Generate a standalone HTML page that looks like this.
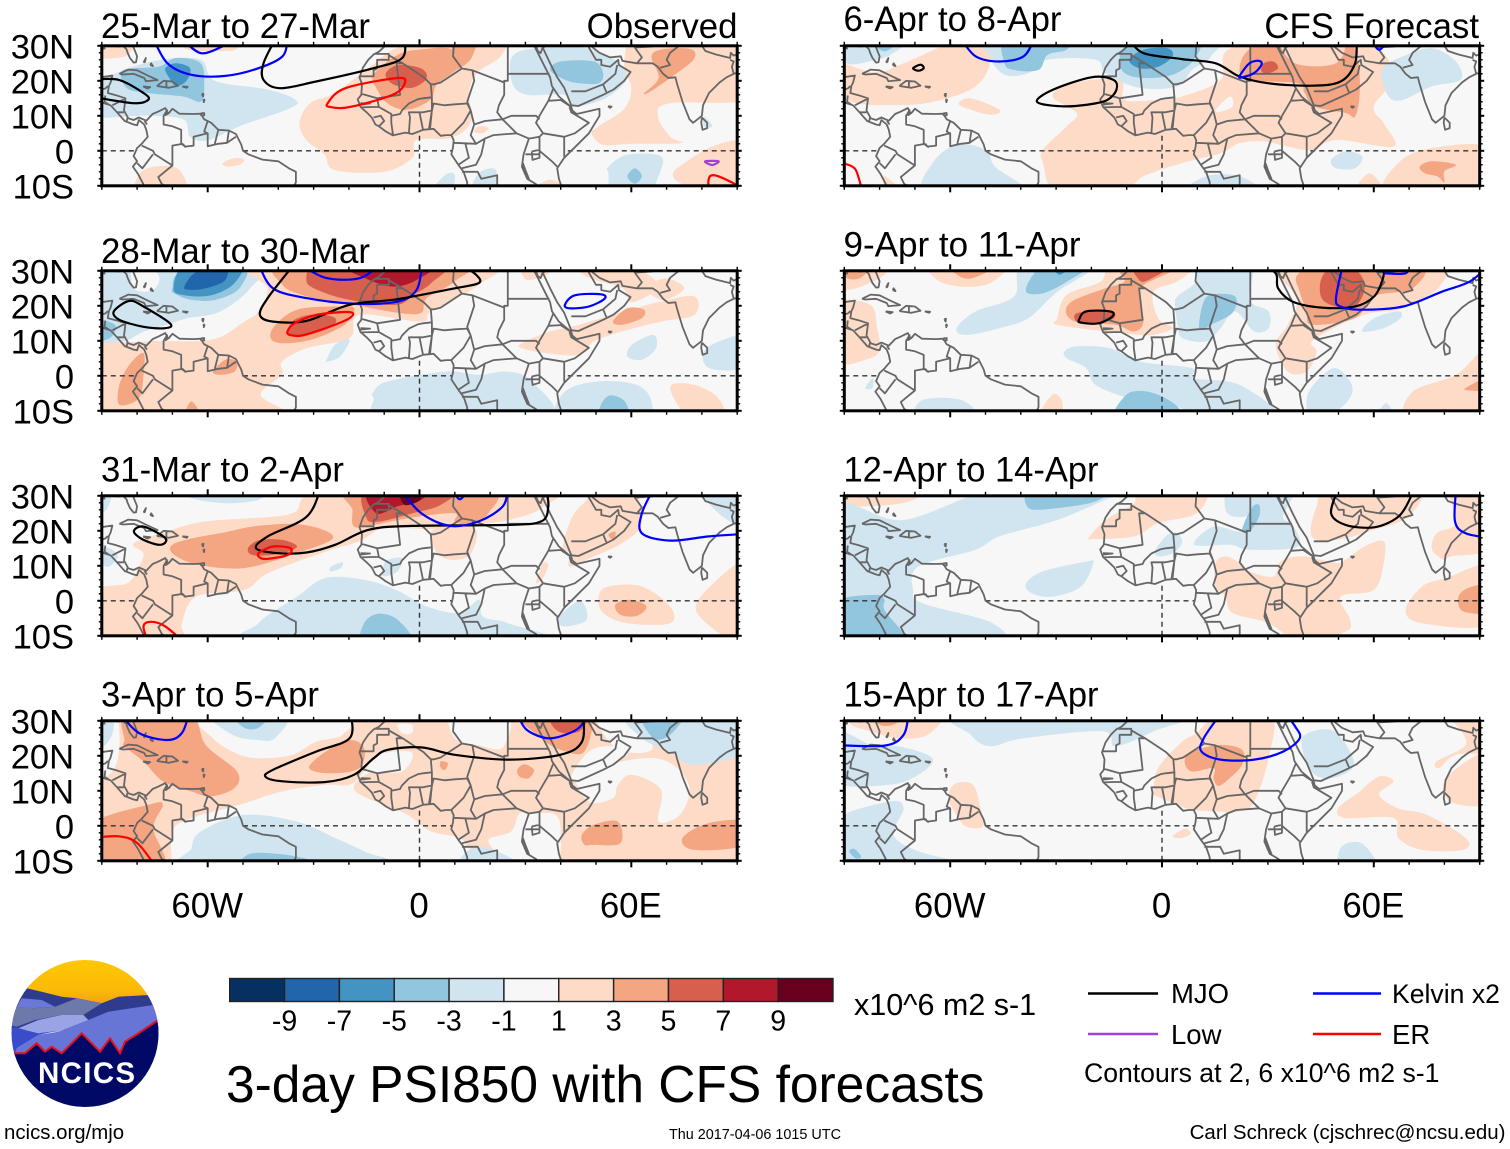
<!DOCTYPE html>
<html lang="en">
<head>
<meta charset="utf-8">
<title>3-day PSI850 with CFS forecasts</title>
<style>
html,body{margin:0;padding:0;background:#fff;}
svg{display:block;}
text{font-family:"Liberation Sans",Arial,sans-serif;fill:#000;}
</style>
</head>
<body>
<svg id="chart" xmlns="http://www.w3.org/2000/svg" width="1510" height="1149" viewBox="0 0 1510 1149">
  <rect width="1510" height="1149" fill="#fff"/>
  <defs>
    <clipPath id="logo-clip"><circle cx="85" cy="1033.5" r="73.5"/></clipPath>
    <linearGradient id="sun-gradient" x1="0" y1="0" x2="0" y2="1"><stop offset="0" stop-color="#ffc800"/><stop offset="0.65" stop-color="#fbb908"/><stop offset="1" stop-color="#ee9c10"/></linearGradient>
  </defs>
  <g id="panels"></g>
  <g id="colorbar"></g>
  <text x="854" y="1015" font-size="30.500">x10^6 m2 s-1</text>

  <g>
    <line x1="1088" x2="1158" y1="993.500" y2="993.500" stroke="#000" stroke-width="2.400"/>
    <text x="1171" y="1003" font-size="27.500">MJO</text>
    <line x1="1313" x2="1381" y1="993.500" y2="993.500" stroke="#0000ff" stroke-width="2.400"/>
    <text x="1392" y="1003" font-size="26.600">Kelvin x2</text>
    <line x1="1088" x2="1158" y1="1034" y2="1034" stroke="#a040e0" stroke-width="2.600"/>
    <text x="1171" y="1044" font-size="27.500">Low</text>
    <line x1="1313" x2="1381" y1="1034" y2="1034" stroke="#ff0000" stroke-width="2.400"/>
    <text x="1392" y="1044" font-size="27.500">ER</text>
    <text x="1084" y="1082" font-size="26.600">Contours at 2, 6 x10^6 m2 s-1</text>
  </g>

  <text x="226" y="1102" font-size="51.500">3-day PSI850 with CFS forecasts</text>
  <text x="4" y="1139" font-size="20.400">ncics.org/mjo</text>
  <text x="669" y="1139" font-size="14.400">Thu 2017-04-06 1015 UTC</text>
  <text x="1505.500" y="1139" font-size="20.500" text-anchor="end">Carl Schreck (cjschrec@ncsu.edu)</text>

  <g>
    <g clip-path="url(#logo-clip)">
      <rect x="10" y="958" width="152" height="50" fill="url(#sun-gradient)"/>
      <polygon fill="#2f3c8e" points="26.700,988.300 41.700,991.700 61.700,996.700 76.700,998.300 101.700,1003.300 118.300,996.700 148.300,995 160,1005 160,1030 10,1030 10,998"/>
      <polygon fill="#6a78d8" points="21.700,998.300 41.700,1000 55,1006.700 31.700,1008.300 16.700,1006.700"/>
      <polygon fill="#6d78ab" points="10,1025 16.700,1006.700 33.300,1008.300 55,1006.700 76.700,998.300 101.700,1003.300 83.300,1015 61.700,1015 35,1020 16.700,1026.700"/>
      <polygon fill="#6675d6" points="58.300,1031.700 88.300,1020 108.300,1011.700 153.300,1005 162,1016 162,1056 10,1056 16.700,1048.300 38.300,1035"/>
      <polygon fill="#9aa4e4" points="18.300,1028.300 38.300,1020 61.700,1015 83.300,1015 88.300,1020 58.300,1031.700 38.300,1033.300"/>
      <polygon fill="#3a4ccc" points="8,1026 11.700,1026.700 18.300,1028.300 38.300,1033.300 56.700,1031 38.300,1035 16.700,1048.300 14.300,1056 8,1056"/>
      <polygon fill="#000a66" points="8,1053.300 13.300,1053.300 25,1053.300 36.700,1043.300 45,1051.700 51.700,1046.700 61.700,1053.300 81.700,1033.300 100,1051.700 110,1038.300 120,1053.300 125,1041.700 138.300,1033.300 158.300,1020 162,1016 162,1110 8,1110"/>
      <polyline fill="none" stroke="#e8101c" stroke-width="2" points="8,1053.300 13.300,1053.300 25,1053.300 36.700,1043.300 45,1051.700 51.700,1046.700 61.700,1053.300 81.700,1033.300 100,1051.700 110,1038.300 120,1053.300 125,1041.700 138.300,1033.300 158.300,1020 162,1016"/>
    </g>
    <text x="38" y="1083" font-size="29.500" font-weight="bold" textLength="97" lengthAdjust="spacing" style="fill:#fff">NCICS</text>
  </g>
</svg>

<script>
// ---- axis ticks and labels ----
const lonLabelTicks = [-60, 0, 60];
const lonLabels = ['60W', '0', '60E'];
const lonMinorTicks = [-90, -80, -70, -50, -40, -30, -20, -10, 10, 20, 30, 40, 50, 70, 80, 90];
const latLabelTicks = [30, 20, 10, 0, -10];
const latLabels = ['30N', '20N', '10N', '0', '10S'];
const latMinorTicks = [28, 26, 24, 22, 18, 16, 14, 12, 8, 6, 4, 2, -2, -4, -6, -8];
const equatorOceanSpans = [[-90, -80], [-50, 9.5], [42, 90]];
const primeMeridianOceanSpans = [[-10, 5.5]];

// ---- colorbar ----
const colorbarColors = ['#053061', '#2166ac', '#4393c3', '#92c5de', '#d1e5f0', '#f7f7f7', '#fddbc7', '#f4a582', '#d6604d', '#b2182b', '#67001f'];
const colorbarLabels = ['-9', '-7', '-5', '-3', '-1', '1', '3', '5', '7', '9'];

// ---- panels ----
const panelTitles = ['25-Mar to 27-Mar', '28-Mar to 30-Mar', '31-Mar to 2-Apr', '3-Apr to 5-Apr', '6-Apr to 8-Apr', '9-Apr to 11-Apr', '12-Apr to 14-Apr', '15-Apr to 17-Apr'];
const panelTitleWidths = [269, 269, 243, 218, 218, 237, 255, 255];

// ---- coastlines and borders, [lon, lat] ----
const coastlines = [
  [[-97,28],[-94,29.5],[-90,29.2],[-89.2,29.2],[-89.5,30.3],[-85.5,29.8],[-84,30],[-83,29],[-82.7,28],[-82,26.5],[-81,25.2],[-80.3,25.3],[-80,27],[-81,29.5],[-81.4,31]],
  [[-92,18.6],[-90.7,19.5],[-90.3,21],[-87,21.5],[-87.5,19.5],[-88,18.5],[-88.3,16.5],[-86,15.9],[-83.3,15],[-83.7,11.5],[-82.5,9.3],[-81,8.8],[-79.5,9.5],[-77.4,8.6],[-75.6,10.5],[-74,11.2],[-72,12.2],[-71.4,11],[-71.9,10.2],[-71,10.8],[-70,12],[-68,10.6],[-64,10.5],[-62,10.6],[-61,9],[-59,8],[-57,6],[-54,5.8],[-52,4.8],[-50.5,1.8],[-50,0],[-48.5,-1],[-44.5,-2.5],[-40,-3],[-37,-5],[-35,-6],[-35,-9],[-36,-11]],
  [[-92,15],[-90,13.8],[-87.5,13],[-85.7,11],[-83.5,8.5],[-81,7.5],[-80,7.3],[-79.5,8.8],[-78,7.5],[-77.4,6],[-77,4],[-78.7,2],[-80,0.8],[-81,-1.5],[-80,-3],[-81.2,-4.5],[-79.8,-6.5],[-78.5,-9],[-77.5,-11]],
  [[-71.4,11.8],[-72.5,10],[-72.5,7.5],[-70,7],[-67.5,6],[-67.5,2],[-66,1]],
  [[-60,8.5],[-61,5.5],[-60,5],[-64,4],[-64,1.5],[-66.5,1.2],[-67,2]],
  [[-60,5],[-60,1.3],[-57,2],[-54.5,2.3],[-52,4]],
  [[-57,6],[-58,2]],
  [[-54,5.8],[-54.5,2.3]],
  [[-67,2],[-70,1.5],[-70,-4.2],[-74,-7.5],[-73,-9.5],[-70,-11]],
  [[-78.7,1.5],[-75.5,0],[-75,-1],[-70,-4.2]],
  [[-80,-3.5],[-78.5,-5],[-75.5,-1]],
  [[-77.2,7.5],[-77.9,8.5]],
  [[-85.7,11],[-83.7,11]],
  [[-83,8.3],[-82.7,9.5]],
  [[-83.2,15],[-87,13]],
  [[-92,14.6],[-92,17],[-89,17.8],[-88.3,18.5]],
  [[-89,15.8],[-89.2,14],[-88,13.2]],
  [[-85,22],[-82.5,23.2],[-80,23],[-77,21.5],[-74.2,20.2],[-77.5,19.9],[-78,20.8],[-81,22],[-84,21.8],[-85,22]],
  [[-74.4,18.5],[-72.5,20],[-70,19.8],[-68.4,18.6],[-71,18],[-74.4,18.5]],
  [[-71.7,19.8],[-71.7,18]],
  [[-78.3,18.4],[-76.3,18.2],[-77,17.8],[-78.3,18.4]],
  [[-67.2,18.4],[-65.7,18.3],[-66,18],[-67.2,18.4]],
  [[-78.2,25.2],[-77.5,26.5],[-77.8,25.4],[-78.2,25.2]],
  [[-76.3,24.5],[-75.5,24.2],[-76,25],[-76.3,24.5]],
  [[-61.7,16.2],[-61.2,16.3],[-61.3,15.5],[-61.7,16.2]],
  [[-61.2,14.8],[-60.9,14.5],[-61.1,13.9],[-61.2,14.8]],
  [[-61.9,10.7],[-61,10.8],[-61,10.1],[-61.9,10.2],[-61.9,10.7]],
  [[-10,31],[-9.7,30],[-11.5,28.3],[-13,27.5],[-14.5,26],[-16,23.8],[-17,21],[-16.3,19],[-16.5,16],[-17.5,14.7],[-16.7,12.5],[-15,11],[-13.5,9.5],[-12.5,7.5],[-11.5,7],[-9.5,5.5],[-7.5,4.4],[-4,5.2],[-2,4.8],[1,6],[4,6.3],[6,4.3],[7.5,4.5],[9,4.5],[9.7,3],[9.5,1],[9,-1],[11,-4],[12.5,-6],[13.5,-9],[13.5,-11]],
  [[32.5,31],[32.5,30],[33.5,28],[35.5,24],[37,21],[37.5,18.5],[39.5,15.5],[43,12.5],[43.3,11.5],[44.5,10.5],[51,12],[51,10],[48,5],[44,1],[41,-2],[39,-5],[39.5,-8],[40.5,-11]],
  [[33,29.9],[33.5,28.5],[34.3,27.9],[34.9,29.5],[36,30]],
  [[34.9,29.5],[37,25],[39,21],[41,18],[43,13],[45,12.8],[52,16],[55,17.5],[58,20],[59.8,22.5],[56.5,24.5],[56.3,26],[54,24],[51.5,24.5],[51.5,26],[50,26],[48,29.5],[48.5,31]],
  [[48.5,30],[51,28],[54,26.7],[57,27],[57.5,25.7],[61.5,25],[66,25],[67.5,24],[69,22],[70.5,20.8],[72.5,21],[73,19],[74.5,14],[76.5,9],[77.5,8],[80,10],[80.3,13],[82,16.5],[85,19.5],[87,21],[89,22],[91,22.5]],
  [[80,9.5],[81.5,8],[81.5,6.5],[80.2,6],[79.8,8],[80,9.5]],
  [[53.4,12.7],[54.4,12.6],[54,12.3],[53.4,12.7]],
  [[-13,27.7],[-8.7,27.7],[-8.7,26],[-12,26],[-12,23.5],[-13,23],[-13,21.3],[-17,21.3]],
  [[-8.7,27.3],[-4.8,25],[-6.5,25],[-5.5,16],[-12,15],[-16.5,16.3]],
  [[-4.8,25],[1.2,21],[3.2,19],[4.2,19],[6,19.5],[12,23.5],[9.5,27],[9.8,31]],
  [[12,23.5],[15,23],[24,19.5],[24,20],[25,20],[25,31]],
  [[25,22],[36.8,22]],
  [[24,19.5],[24,16],[22.5,13],[22,11],[23.5,9]],
  [[3.2,19],[3.5,15.3],[1,15],[-0.5,14.7],[-3,13.5],[-5,11.5],[-5.5,10.5],[-8,10],[-8,10.5],[-11.5,12.5],[-12,15]],
  [[3.5,15.3],[3.5,11.5],[1,11],[-3,11],[-2.7,9.5],[-3,5]],
  [[3,6.5],[3.5,11.5],[4,13.5],[7,13],[10,13.3],[13.5,13.5],[14.5,11.5],[12.5,8],[9,4.5]],
  [[15,23],[15.5,20],[13.5,14],[14.5,11.5],[15,9.5],[15.5,7.5],[18.5,8.5],[23.5,9],[27.5,5]],
  [[15.5,7.5],[14.5,4.5],[16,2]],
  [[18.5,3.5],[21,4.5],[27.5,5],[31,3.5]],
  [[23.5,9],[26,10],[33,10],[34,9]],
  [[36.5,14.3],[34,10],[33,8],[35,5],[41,4],[44,5],[48,8],[43,11],[42.5,12.5]],
  [[36.5,14.3],[38,18]],
  [[36.5,14.3],[40,14.5],[43,12.5]],
  [[41,4],[41,-1.7]],
  [[34,4],[35,5]],
  [[34,0],[37.5,-3],[39,-4.5]],
  [[30,-1],[34,-1]],
  [[31,3.5],[34,4],[34,0]],
  [[31,3.5],[29.5,-1],[29,-4.5],[30.5,-8],[33,-9.5],[34,-11]],
  [[9.7,2.3],[16,2],[18.5,3.5],[17.5,-1],[16,-4],[12,-5]],
  [[13,2],[14,-2],[11,-4]],
  [[12,-6],[16.5,-6],[17.5,-8],[22,-7],[22,-11]],
  [[1,6],[0,11]],
  [[2.7,6.3],[3.5,11.5]],
  [[-7.5,4.5],[-8,8],[-8,10]],
  [[-11.5,7],[-10,8.5],[-11,10],[-13,9.5]],
  [[-16.7,13.6],[-14,13.5],[-16.7,13.2]],
  [[-16.7,12.4],[-13.5,12.5],[-11.5,12.5]],
  [[31.8,-0.2],[34,0.3],[34,-2],[32,-2.6],[31.8,-0.2]],
  [[29.3,-3.5],[30,-5.5],[31,-8],[29.8,-6.5],[29.3,-3.5]],
  [[43,17],[47,17],[52,19],[55.5,22],[56,24.5]],
  [[53,16.6],[52,19]],
  [[35,29.5],[39,32]],
  [[61.6,25],[63,26.7],[61,29.5],[61,31]],
  [[61,29.5],[66,29.8],[67,31]],
  [[68.2,23.7],[71,24.5],[70,26],[71,28],[73.5,30],[75,32]],
  [[80,30],[81,28.5],[84,27.5],[88,26.5],[88.2,28],[89,27.2],[91,28]],
  [[88,26],[89,25.5],[88.5,24],[89,22]]
];

// ---- shading per panel: [level, [[lon, lat], ...]]; level 0 means the -1..1 white band ----
const shading1 = [
  [1,[[-68,31],[-66,29],[-58,28.5],[-52,29],[-51,31]]],
  [1,[[-90,31],[-90,27],[-86,26.5],[-82,28],[-81,31]]],
  [-1,[[-90,10],[-90,18],[-84,23],[-73,26],[-62,26],[-58,20],[-43,17.5],[-35,14.5],[-37,12],[-51,7],[-60,3],[-65,4],[-67,9],[-78,10]]],
  [-3,[[-84,23],[-74,24],[-69,26.5],[-62,25],[-61,18.5],[-62,14],[-67,15.5],[-77,16.5],[-83,18]]],
  [-5,[[-72,23.6],[-69,25],[-65,23.6],[-66,20],[-69,18.5],[-71,21]]],
  [1,[[-34,8],[-31,13.6],[-24,16.5],[-14,24],[-6,29.5],[10,31],[24,31],[23,27],[16,22],[14,16],[15,10],[13,6],[8,3.5],[-1,3],[-2,-2],[-10,-6],[-24,-5.5],[-27,-1],[-32,3]]],
  [3,[[-13,21.7],[-6,27.5],[1,29],[9,29],[11,24],[5,19],[3,14.5],[-3.5,11.7],[-9,13.5],[-12,17.5]]],
  [3,[[9.5,31],[16,31],[15,27],[12,24],[10,24]]],
  [5,[[-9.6,22],[-6,24.5],[0.5,23.5],[2,20.7],[-2,18],[-7.5,19]]],
  [-1,[[26.3,27],[33.8,29.3],[49.4,28.9],[58.9,22.2],[53.5,15.5],[44,12.7],[41,16],[30.4,16],[26.3,19.3]]],
  [-3,[[37,23.1],[40,25.5],[49.4,25.5],[52,22.2],[50.8,19.3],[45.3,19.3],[41.2,20.3]]],
  [1,[[48.7,5],[50.7,7],[58,12],[60,18],[58,24],[59,30],[60,31],[93,31],[93,15.5],[71,13.6],[67.6,9.8],[71,4],[74,2.2],[60,2],[52,1.7]]],
  [3,[[63.6,16.4],[67.7,20.8],[65.7,27],[69,29],[76.9,29],[77.6,26],[71,20.8],[65.5,17]]],
  [1,[[89.7,3],[82,0.8],[75,-3.5],[71.8,-6.4],[73.8,-9.2],[82,-10],[90,-10],[90,1]]],
  [-1,[[53.5,-4.5],[58.9,-1.1],[68.4,-1.6],[67.7,-7.3],[64.3,-10],[54.8,-10],[53.5,-6.4]]],
  [-3,[[58.9,-7.3],[61,-5],[63,-7.3],[61,-9.4]]],
  [1,[[-55.8,-3.5],[-52.4,-2.1],[-49.7,-2.6],[-51,-4],[-54.4,-4.5]]],
  [1,[[-80,-10],[-78,-5.4],[-68.7,-5],[-66.6,-10]]],
  [-1,[[3.3,-10],[7.3,-6.9],[10,-6.9],[8.7,-10]]],
  [-1,[[14.8,-10],[16.8,-6.4],[21.6,-5.4],[21,-10]]],
  [1,[[31.8,-10],[37,-8.3],[42.6,-10]]],
  [1,[[15.5,5.5],[16.8,7],[19.5,6.5],[18,5]]],
  [-1,[[80.6,9.8],[83,7],[80.6,7]]]
];
const shading2 = [
  [-1,[[-90,30],[-47,30],[-48,25],[-56.6,18.3],[-66,16.4],[-71.4,14.6],[-78,12.7],[-84,9.8],[-90,9.8]]],
  [0,[[-81,31],[-74,28.9],[-75.4,24.6],[-81,25]]],
  [-3,[[-70,25],[-67.3,29.7],[-49.7,30],[-51,25],[-57.8,21.7],[-64.6,21.7],[-69.4,23.5]]],
  [-3,[[-90,16],[-86.3,14.6],[-87.7,10.8],[-90,10.2]]],
  [-5,[[-69.7,25],[-66,30],[-51,30],[-52.4,26.5],[-59,23],[-66.6,23]]],
  [-7,[[-66.6,25.5],[-63.2,29.7],[-55,30],[-55,27.4],[-60.5,25],[-65.2,24.6]]],
  [1,[[-45.6,30],[-43,25],[-45.6,18.4],[-49.7,15.5],[-59,10.3],[-78,9.8],[-90,7],[-90,-10],[-40,-10],[-45,-5.4],[-39,0.3],[-39,4],[-32,7.9],[-19.8,10.8],[-17,17.4],[0.5,15.5],[3.3,18.4],[16.8,26],[18,30]]],
  [3,[[-37.4,30],[-38.8,26],[-32,22.7],[-21.2,20.8],[-6.2,18],[0.5,18],[2,22.2],[10,27],[11.4,30]]],
  [3,[[-42.2,10.8],[-40.8,14.6],[-34.7,18.9],[-23.9,19.8],[-18.5,19.3],[-21.2,14.6],[-30.7,10.3],[-38.8,9.3]]],
  [5,[[-26.6,30],[-32,27],[-26.6,23.6],[-17,21.2],[-6.2,20.3],[-2,23],[3.3,26.5],[6,30]]],
  [5,[[-37.4,11.7],[-35.4,16],[-29.3,17.6],[-23.9,16.5],[-25,14.1],[-32,11.7]]],
  [7,[[-21.2,30],[-15.7,28],[-7.6,25.5],[-0.8,27.4],[3.3,30]]],
  [-1,[[-26.6,4],[-23.9,8.9],[-19.8,10.3],[-22.5,5.5],[-26.6,3.9]]],
  [-1,[[-13,-4.5],[-9,-1.6],[7.3,1.2],[16.8,0.3],[25,1.2],[31.8,-1.6],[35.8,-10],[-9,-10],[-13,-6.4]]],
  [-1,[[40,-10],[41.2,-4.5],[50.7,-1.6],[61.6,-2.6],[65.7,-7.3],[63,-10]]],
  [-3,[[51.4,-8.3],[54,-5.6],[58.2,-7.3],[58.9,-10],[51.4,-10]]],
  [1,[[71,-3.2],[77.9,-2.6],[84.7,-6.4],[86,-10],[76.5,-10]]],
  [1,[[29,9.3],[37,12.7],[45.3,14.6],[57.5,18.3],[68.4,21.2],[77.9,22.7],[77.9,17.4],[68.4,15.5],[57.5,12.7],[49.4,9.8],[45.3,6],[35.8,6.5],[29,7.9]]],
  [1,[[44,30],[48,28],[57.5,25],[60,21],[67,24.6],[66,28],[57.5,30]]],
  [1,[[29,30],[37,29.8],[30.4,27.4]]],
  [1,[[63.6,25],[69.7,27.9],[75,25],[69.7,21.7],[65.7,23.1]]],
  [3,[[54.8,15.5],[58.9,19.3],[63.6,18.9],[63,16.5],[57.5,14.6]]],
  [3,[[-85,-2.6],[-82.2,3.1],[-78.2,6.5],[-78.2,0.3],[-79.5,-6.4],[-85,-8.3]]],
  [3,[[-58.5,1.2],[-55,4.6],[-51.7,4.1],[-52.4,1.2],[-56.4,0.3]]],
  [3,[[-66.6,-10],[-64.6,-7.3],[-61.9,-10]]],
  [-1,[[58.9,5.5],[60.2,8.9],[66.3,11.7],[67,7.9],[63,4.6]]],
  [-1,[[81.3,7.9],[90,11.7],[90,2.7],[82,2.2]]]
];
const shading3 = [
  [1,[[-90,2.2],[-82.8,5],[-79.5,9.8],[-78.2,13.6],[-81,16.4],[-71.4,19.8],[-60.5,22.7],[-37.4,24.6],[-33.4,28.9],[-29,31],[36,31],[34.5,26.5],[25,23],[16.8,21.9],[3.3,20.5],[-10,20.8],[-17,17],[-26.6,14],[-42.7,8],[-49.7,3.1],[-63.2,1.2],[-67.3,-6.4],[-68,-11],[-91,-11]]],
  [1,[[4,20.3],[15.5,20.8],[14.7,13.6],[10,11.7],[6,12.7],[4,15.5]]],
  [-1,[[-90,30],[-87.3,30],[-88.7,26],[-90,25]]],
  [-1,[[-68.7,30],[-44.2,30],[-45.6,28.9],[-55,27.9],[-64.6,29.3]]],
  [-1,[[-90,16],[-87,14.6],[-85.6,12.2],[-89,9.8]]],
  [-1,[[80.6,30],[90,30],[90,21.2],[84.7,25]]],
  [1,[[40.6,15.5],[43.3,24],[47.4,28.9],[49.4,30],[60.2,30],[63,22.2],[57.5,16.5],[49.4,12.7],[42.6,9.8],[42.6,13.6]]],
  [1,[[33.8,7.9],[35,10.8],[36.5,10.3],[35,6.5],[33,5]]],
  [3,[[-70,16],[-64.6,17.8],[-55,19.6],[-46,21.4],[-34.7,21.9],[-26.6,20],[-25,17.4],[-34.7,13.6],[-47,9.8],[-55,9.3],[-64.6,10.8],[-70,13.6]]],
  [3,[[-19,30],[-19,26],[-18.5,21.2],[-13,21.7],[-0.8,24],[10,25],[10,22.5],[15,22],[19.5,25],[19.5,30]]],
  [3,[[53.5,18.9],[55.5,19.8],[55,17.4]]],
  [5,[[-14.4,30],[-15,23.6],[-11,22.7],[-2,25],[6,27.4],[9.4,30]]],
  [5,[[-48.3,15.5],[-45,17.4],[-38.8,17.4],[-34.7,15.5],[-38.8,13.6],[-45.6,12.9],[-48.3,13.6]]],
  [7,[[-14.4,30],[-12.3,25],[-6.2,27],[0.5,28.9],[2.6,30]]],
  [9,[[-5.6,30],[-4.2,27.4],[0.5,29.3]]],
  [-1,[[-45.6,-6.4],[-34.7,1.2],[-26.6,6.5],[-15.7,6],[-6.2,2.9],[2,-1.6],[11.4,-3.5],[16.8,0.3],[18,-4.5],[25,-6.4],[34.5,-10],[-45.6,-10]]],
  [-3,[[-15.7,-10],[-15.7,-6.4],[-11.7,-3.7],[-6.2,-5.4],[-2.2,-10]]],
  [-1,[[-25,9.8],[-21.8,11],[-22.3,9.3],[-25.2,8.4]]],
  [-1,[[-9,11.7],[-5,12.2],[-6.2,8.4],[-10.3,7],[-10.3,9.8]]],
  [-1,[[39.2,-5.4],[42.6,-1.6],[46,-0.2],[47.4,-5.4],[41.2,-7.3]]],
  [1,[[50.7,1.2],[53.5,4.1],[63,4.1],[71,-1.6],[71,-6.4],[58.9,-6.4],[52,-3.5]]],
  [3,[[55.5,-1.1],[59.6,0.3],[64.3,-1.6],[61.6,-4.3],[56.9,-4]]],
  [1,[[90,10.3],[83.3,5],[78.6,-3.5],[90,-10]]]
];
const shading4 = [
  [1,[[-100,40],[100,40],[100,-20],[-100,-20]]],
  [0,[[-61.2,30],[-58.5,25],[-51,20.3],[-44.2,19.3],[-36,20.3],[-29.3,24],[-21.8,26],[-21.2,30]]],
  [0,[[-90,30],[-86.3,30],[-85,23],[-87,15.5],[-90,13.6]]],
  [0,[[-70,-10],[-70,-1.6],[-64.6,2.2],[-51,6],[-39,9.8],[-26.6,11.7],[-19.8,11.7],[-15.7,15.5],[-11.7,20.3],[-2.2,21],[-5,15.5],[-14.4,15],[-18.5,10.3],[-10.3,6],[-3.5,3.2],[3.3,-1.6],[11.4,-3.5],[15.5,-7.3],[29,-11],[-70,-11]]],
  [0,[[28.4,3.6],[33,3.6],[38.5,3.2],[40,-1.6],[38.5,-10],[28,-10],[19.5,-4.5],[26,-1.6]]],
  [0,[[9.4,30],[25,30],[23.6,22.4],[16.8,23],[10,25]]],
  [0,[[-6.2,28.9],[-2.2,28.9],[-2.2,26.5],[-4.9,26.5]]],
  [0,[[48,6.9],[45.3,14.6],[63,19.3],[71.8,17.4],[76.5,10.8],[73.8,3.2],[67.7,1.2],[68.4,10.3],[60.2,14.6],[56.2,11.7],[54.8,7.9]]],
  [0,[[42.6,13.6],[48,21.2],[54.8,22.7],[58.9,20.3],[49.4,15.5],[44,12.7]]],
  [0,[[49.8,30],[60,30],[66,22],[56,22]]],
  [-1,[[-90,30],[-87,30],[-87.5,25],[-90,21]]],
  [-1,[[-59,30],[-38,30],[-41,25],[-46,24.5],[-53,26]]],
  [-3,[[-52.4,30],[-42.9,30],[-45.6,28],[-49.7,28]]],
  [-1,[[60.2,30],[91,30],[91,21.7],[77.9,17.4],[71,21.2],[63,25]]],
  [-3,[[63,30],[66.3,25],[71,26],[74.5,30]]],
  [3,[[-83.6,24.5],[-83,30],[-65.3,30],[-60.5,23],[-51.7,15.5],[-52.4,10.8],[-59,8.4],[-64.6,9.8],[-72.7,12.7],[-78.2,18.4],[-83.6,22.7]]],
  [3,[[-90,0.3],[-76.8,6],[-72.7,6],[-75.4,-0.7],[-72.7,-10],[-90,-10]]],
  [3,[[-31.3,16.5],[-26.6,21.2],[-19.8,24.5],[-15.7,22.2],[-17,16.5],[-25,15]]],
  [3,[[27.7,16],[29.7,17.6],[32.4,16],[31,13.6],[28.4,14]]],
  [3,[[6,18.4],[8,17.9],[7.3,16],[6,16.5]]],
  [3,[[46,-2.6],[49.4,0.3],[56.2,1.2],[56.9,-5],[49.4,-5.4],[46.7,-5.4]]],
  [3,[[74.5,-3.5],[82,0.8],[90,1.2],[90,-5.4],[78,-6.9]]],
  [3,[[28.4,30],[34.5,25],[39.9,21.7],[46.7,21.2],[47.4,30]]],
  [5,[[37,30],[39.2,27],[45.3,27],[47.4,30]]],
  [-1,[[-64.6,-6.4],[-61.9,-1.6],[-49.7,3.1],[-34.7,1.2],[-23.9,-3.5],[-15.7,-7.3],[-7.6,-10],[-64.6,-10]]],
  [-3,[[-49,-10],[-47.6,-7.9],[-34.7,-8.8],[-26.6,-10]]],
  [-1,[[11.4,-10],[14.8,-6.4],[21,-6.9],[29,-10]]]
];
const shading5 = [
  [1,[[-90,25],[-81.4,22.4],[-73.2,25],[-57,30],[-50,30],[-48.7,25],[-52.8,18.4],[-62.3,14.6],[-73.2,13.1],[-89.5,14.6]]],
  [-1,[[-90,30],[-73,30],[-76,28],[-81,26],[-89.5,25]]],
  [-3,[[-82.7,30],[-74.6,30],[-78.6,28.4]]],
  [1,[[-33.7,0.3],[-27,7],[-24.2,10.8],[-31,15.5],[-25.6,19.3],[-12,20.3],[-10.6,14.6],[-1.1,14.6],[5.7,15.5],[16.6,20.3],[20.7,29.8],[55.4,30],[65.6,22],[60,12.7],[62.8,7.9],[65.6,1.2],[49.6,3.1],[42.4,0.3],[35.6,1.2],[28.8,2.7],[22,2.2],[16.6,-0.7],[5.7,-3.5],[-5.2,-7.3],[-12,-10],[-29.7,-10],[-33.7,-3.5]]],
  [-1,[[-48.7,27],[-45.9,30],[11.2,30],[13.9,27],[8.4,23],[4.4,18.4],[-6.5,18],[-16,22.2],[-18.8,26],[-32.4,26],[-37.8,22.2],[-44.6,21.7]]],
  [-3,[[-44.6,25],[-44,30],[-27,30],[-27,28.9],[-32.4,27.4],[-35,23.1],[-42,23.1]]],
  [-3,[[-12,26],[-9.3,29.8],[9.8,30],[9,26],[3,21.7],[-5.2,20.8],[-10.6,22.2]]],
  [-5,[[-9.3,26],[-5.2,28.9],[1.6,29.3],[3,27],[-1.1,24],[-6.5,23.6]]],
  [1,[[-57.6,13.6],[-54.2,15],[-46,11.7],[-48.7,10.3],[-55.5,12.2]]],
  [0,[[15.2,11.7],[19.3,15.5],[20,12.7],[16.6,11.2]]],
  [3,[[22,24],[26.1,29.8],[39.7,30],[52,30],[55.4,26],[56,16.5],[54.7,9.8],[52,10.8],[43.1,12.7],[40.4,16.5],[38.4,19.3],[24.8,20.3]]],
  [1,[[34.3,30],[37.7,25],[49.3,25],[50.6,30]]],
  [5,[[28.8,25],[31.6,25.5],[32.9,23.6],[30.2,22.2],[28.2,22.7]]],
  [-1,[[62.2,23.1],[68.3,27],[76.5,29.3],[83.3,25.5],[84.6,20.3],[76.5,18.4],[68.3,14.6],[64.2,15.5]]],
  [1,[[64.2,-10],[66.9,-3.5],[76.5,0.8],[90,0.8],[90,-10]]],
  [3,[[73,-4.5],[76.5,-3],[83.3,-4],[80,-5.9],[80,-9],[78,-7.3],[74.4,-6.4]]],
  [-1,[[47.9,-2.6],[52,-0.2],[56.7,-1.6],[54.7,-5],[49.3,-5]]],
  [-1,[[-66.4,-10],[-65,-3.5],[-58.2,1.7],[-50,0.3],[-47.3,-4.5],[-39.2,-10]]],
  [-1,[[7,-10],[12.5,-7.3],[22,-7.3],[27.5,-10]]],
  [1,[[54.7,-10],[58.8,-6.4],[62.8,-10]]],
  [1,[[-78.6,-7.3],[-73.2,-10],[-78,-10]]]
];
const shading6 = [
  [1,[[-90,30],[-80,30],[-78.6,28.9],[-86.8,25],[-90,25]]],
  [3,[[-90,30],[-82.7,30],[-85.4,28],[-89.5,28]]],
  [1,[[-90,20.3],[-82.7,20.3],[-80.7,13.6],[-80,7.9],[-82.7,5],[-90,4.1]]],
  [1,[[-65,30],[-44.6,30],[-48.7,26.5],[-56.9,25.5],[-63.7,27.4]]],
  [3,[[-60.3,30],[-46.7,30],[-52.8,28.2],[-56.9,28.2]]],
  [-1,[[-58.2,13.6],[-52.8,18.4],[-41.9,22.7],[-39.2,30],[-18.8,30],[-29.7,24],[-37.8,16.5],[-46,13.6],[-55.5,11.7]]],
  [-3,[[-38.5,24],[-36.5,28.9],[-32.4,30],[-20.1,30],[-27,26.9],[-33.7,23.6]]],
  [-5,[[-31,30],[-25.6,30],[-29,28.9]]],
  [1,[[-29.7,16.5],[-27,23.1],[-17.4,26.9],[-13.3,30],[8.4,30],[4.4,27],[-2.4,24],[-1.1,16.5],[3,13.6],[-2.4,11.7],[-6.5,11.7],[-16,12.7],[-29.7,14.6]]],
  [3,[[-27,17.4],[-25.6,21.2],[-16,25],[-10.6,27],[-12,30],[5.7,30],[-5.2,26],[-6.5,23.1],[-5.2,15.5],[-7.9,12.7],[-13.3,14.6],[-22.9,15]]],
  [5,[[-23.5,15],[-24.2,17.9],[-14.7,18.6],[-13.6,16.5],[-18,15]]],
  [5,[[-7.9,30],[3,30],[-3.8,27.4],[-6.5,27.4]]],
  [-1,[[3.7,20.3],[4.4,22.7],[9.8,27],[9.8,30],[24.8,30],[24.8,21.7],[30.2,18.4],[30.2,13.6],[26.1,12.7],[20.7,18.4],[16.6,13.6],[12.5,9.8],[5.7,10.8],[4.4,14.6]]],
  [-3,[[10.5,14.6],[11.8,21.2],[14.6,23.3],[20.7,22.7],[20,18],[13.9,14.6],[11.2,13.1]]],
  [1,[[33.6,30],[76.5,30],[78.6,25.5],[68.3,19.3],[58.8,17.9],[50.6,14.6],[42.4,9.8],[43.8,6.9],[41,1.2],[35.6,1.2],[32.2,8.9],[35.6,14.6],[38.4,22.2]]],
  [3,[[39,24],[38.4,28.9],[46.5,30],[73,30],[71,25],[60,22.7],[54.7,16.5],[42.4,14.6],[41,18.4]]],
  [5,[[45.2,22.2],[45.2,27.9],[49.3,30],[55.4,29.8],[57.4,25],[54.7,19.8],[49.3,19.8]]],
  [-1,[[56.7,12.7],[60.1,16.5],[66.9,18.4],[67.6,16.5],[62.8,13.6]]],
  [-1,[[-27.6,7],[-24.2,8.4],[-14.7,7.9],[-6.5,4.1],[8.4,2.2],[9.1,-0.7],[22,-2.6],[33,-10],[12.5,-10],[3,-8.3],[-9.3,-6.4],[-18.8,-2.6],[-21.5,2.2],[-27,5]]],
  [-3,[[-12.7,-10],[-10.6,-5.9],[-6.5,-4.3],[-1.1,-5.4],[4.4,-8.8],[4.4,-10]]],
  [-1,[[41,-6.4],[43.8,-1.6],[49.3,2.2],[54,-3.5],[50.6,-9.2],[42.4,-10]]],
  [-1,[[-69,-10],[-67.8,-6.9],[-56.9,-6.9],[-52.8,-10]]],
  [1,[[-35,-10],[-31,-5.4],[-28.3,-7.3],[-29,-10]]],
  [-1,[[60.8,-10],[63.5,-7.8],[65.6,-10]]],
  [-1,[[-84,-3.5],[-82,-0.7],[-82,-3.5]]],
  [1,[[70.3,-10],[71,-4.5],[83.3,0.3],[90,7.9],[90,-10]]],
  [3,[[86,-3.5],[90,-0.2],[90,-4],[87.3,-4.2]]]
];
const shading7 = [
  [1,[[-90,30],[-66.6,30],[-73.2,28],[-84.4,27],[-90,27]]],
  [-1,[[-90,26],[-73.2,23.1],[-46,30],[-9.3,30],[-16,28.9],[-29.7,23.1],[-46,18.4],[-52.8,14.6],[-69,9.8],[-70.5,3.1],[-67.8,-0.7],[-48,-6.4],[-48.7,-10],[-91,-10]]],
  [-3,[[-90,-0.7],[-81.4,1.7],[-78.6,0.3],[-78.6,-2.6],[-73.2,-10],[-90,-10]]],
  [-3,[[-37.8,26.5],[-36.5,30],[-16,30],[-18.8,28.4],[-29.7,26.5]]],
  [-1,[[-38.5,5],[-33.7,8.4],[-21.5,11.2],[-19.5,10.8],[-22.9,4.1],[-31,1.2],[-37,2.2]]],
  [1,[[-20.8,18],[-16,23.1],[-7.9,27.9],[-6.5,30],[11.8,30],[9.8,25],[-1.1,22.2],[-7.9,18.4],[-20.1,17.6]]],
  [-1,[[-1.8,14.6],[1.6,18.9],[4.4,19.3],[5.7,16.5],[3,13.6],[-1.1,12.7]]],
  [-1,[[9.1,16],[14.6,21.2],[23.4,20.3],[24.8,30],[37,30],[34.3,24],[37,21.7],[38.4,15.5],[24.8,14.6],[19.3,16]]],
  [-1,[[18.6,30],[25.4,30],[24.8,25],[20.7,24],[18,26]]],
  [-3,[[22.7,20.3],[25.4,26.5],[27.5,27.4],[27.5,24],[24.8,19.8]]],
  [1,[[42.4,18.4],[43.8,27],[47.9,30],[72.4,30],[69.7,24],[60.1,20.3],[49.3,17.4]]],
  [1,[[15.2,4.1],[15.2,10.8],[18,12.7],[22,10.8],[24.8,8.4],[31.6,6.9],[33.6,11.2],[39.7,12.7],[49.3,10.8],[52,11.7],[57.4,15.5],[62.8,17],[62.8,10.8],[60,3.1],[50.6,1.2],[53.3,-5.4],[52,-8.8],[39.7,-10],[30.2,-6.4],[20,-3.5],[18,1.2]]],
  [1,[[77.8,19.3],[83.3,22.2],[81.9,30],[90,30],[90,15.5],[81.9,12.7],[79.9,11.7],[76.5,14.6]]],
  [1,[[69,-2.6],[73.7,4.1],[80.5,6.5],[90,9.8],[90,-6.4],[73.7,-6.4]]],
  [3,[[84,1.2],[87.3,3.9],[90,4.1],[90,-3],[85.3,-3]]]
];
const shading8 = [
  [1,[[-88.2,30],[-63.7,30],[-66.4,26],[-74.6,25],[-84,27.4],[-88,28.9]]],
  [3,[[-80.7,30],[-72.5,30],[-76,28.9],[-80,28.9]]],
  [-1,[[-90,27],[-81.4,22.7],[-74.6,22.7],[-65,19.3],[-69,14.6],[-77.3,11.7],[-90,12.7]]],
  [-1,[[-90,1.2],[-77.3,6.9],[-73.2,5],[-76,-2.6],[-69,-7.3],[-54,-10],[-90,-10]]],
  [-3,[[-88.6,-7.3],[-87.2,-6.6],[-85.2,-8.8],[-86.8,-9.3]]],
  [-1,[[-56.2,30],[5.7,30],[-2.4,27],[-13.3,22.7],[-16.7,27],[-39.2,25],[-48.7,22.7],[-54.2,26]]],
  [1,[[-60.3,9.8],[-58.2,12.2],[-53.5,11.7],[-51.4,5],[-50.7,-0.2],[-55.5,-0.2],[-58.2,3.1],[-60.3,7]]],
  [1,[[-2.4,9.8],[-1.1,16.5],[5.7,24],[9.8,26.5],[16.6,30],[30.9,30],[30.2,19.3],[26.1,6.9],[22,4.1],[15.2,4.1],[8.4,4.6],[4.4,6],[-2.4,8.9]]],
  [3,[[6.4,18.4],[8.4,21.2],[16.6,23.1],[22.7,21.7],[22.7,17.4],[18.6,13.1],[15.9,11.4],[14.6,13.6],[14.6,16.5],[8.4,15.5]]],
  [-1,[[39.7,25],[47.9,27.4],[53.3,21.2],[54,16.5],[47.9,13.6],[42.4,15.5]]],
  [1,[[79.2,30],[90,30],[90,21.7],[83.3,20.3],[78.5,16.5],[77.8,18.4],[86,23.1],[83.3,28.9]]],
  [1,[[80.5,13.6],[90,21.2],[90,7],[81.9,6.8]]],
  [1,[[49.9,5],[56,9.8],[61.5,14.1],[65.6,12.7],[61.5,8.9],[66.9,5],[75.1,3.1],[86,-3.5],[85.3,-6.9],[73.7,-6.9],[66.9,-3.5],[65.6,2.2],[52,2.2]]],
  [-1,[[50.6,-10],[50.9,-5.9],[56.7,-5.1],[60.8,-10]]],
  [1,[[3,-3],[6.4,-0.9],[8.2,-2.1],[5.7,-3.5]]]
];
const panelShading = [shading1, shading2, shading3, shading4, shading5, shading6, shading7, shading8];

// ---- filtered-wave contours: [wave, [[lon, lat], ...], closed] ----
const contours1 = [
  ['kelvin',[[-75.4,30],[-71.4,25],[-64.6,21.7],[-55,21.4],[-45.6,23.6],[-38.8,27],[-37.4,30]]],
  ['kelvin',[[-67.3,30],[-61.9,27.9],[-55.8,29.8]]],
  ['mjo',[[-40.8,30],[-44.2,25],[-44.2,20.3],[-39.5,17.9],[-29.3,19.8],[-13,23.6],[-4.9,26.5],[-4.2,30]]],
  ['mjo',[[-90,20.3],[-85.3,20.3],[-78.2,16.5],[-76.8,14.6],[-81,13.6],[-90,15.5]]],
  ['er',[[-26,13.6],[-21,17.9],[-6.2,20.8],[-4.2,19.3],[-7.6,16],[-19.8,12.5],[-25.2,12.5]],true],
  ['er',[[82,-7.8],[84.7,-7.3],[90,-10],[83.3,-10]],true],
  ['low',[[81,-3],[84.7,-3],[83.3,-4],[82,-3.8]],true]
];
const contours2 = [
  ['kelvin',[[-45.6,30],[-41.5,25],[-32,22.2],[-18.5,20.6],[-6.2,21.2],[-0.8,24.6],[0.8,30]]],
  ['kelvin',[[-34,30],[-26.6,28],[-17,27.9],[-11,30]]],
  ['kelvin',[[41.2,20.3],[44,23],[51.4,23.3],[52.4,22],[48,19.8],[42.6,19.3]],true],
  ['mjo',[[-35.4,30],[-43,22.2],[-45.2,17.4],[-41.5,15.5],[-32,15.7],[-19.8,20.3],[-6.2,21.9],[10,25],[16.8,26.5],[16,28.9],[11.4,30]]],
  ['mjo',[[-86.6,18.4],[-82.2,21.4],[-78.2,19.8],[-70.7,15],[-72,13.6],[-78.2,14],[-85,16]],true],
  ['er',[[-37.4,12.7],[-35.4,15],[-29.3,17.4],[-19.8,18.2],[-19.8,16.5],[-26.6,13.6],[-33.4,11.5],[-36.7,11.7]],true]
];
const contours3 = [
  ['mjo',[[-28,30],[-32,24],[-43,18.4],[-46.3,15],[-40,13.6],[-32,13.8],[-23.9,16],[-14.4,20.3],[-2.2,21.4],[25,21.7],[34.5,22.7],[36.5,27],[35.8,30]]],
  ['mjo',[[-80.9,19.8],[-78.2,21.2],[-72,17.9],[-73.4,16],[-78.2,17.4]],true],
  ['er',[[-45.6,13.6],[-41.5,15.5],[-36.5,15],[-37.4,13.1],[-42.9,12],[-45,12.2]],true],
  ['er',[[-76.8,-10],[-78.2,-7.3],[-76,-6],[-72,-7.3],[-66.6,-10]]],
  ['kelvin',[[-5.6,30],[0.5,25],[8.7,21.4],[16.8,22.7],[23.6,27],[25,30]]],
  ['kelvin',[[9.4,30],[11.4,29],[14,30]]],
  ['kelvin',[[66.3,30],[63,25],[63,19.3],[71,17.2],[82,18.4],[90,19.2]]]
];
const contours4 = [
  ['kelvin',[[-84.7,30],[-79.5,26.5],[-71.4,24.5],[-67.3,26.5],[-65.3,30]]],
  ['kelvin',[[27.7,30],[30.4,27.4],[36.5,25],[42.6,26.5],[46,28.9],[46.7,30]]],
  ['mjo',[[-19.4,30],[-19.8,25],[-29.3,21.2],[-41.5,16],[-43.6,14],[-38.8,12.7],[-26.6,12.5],[-18.5,14.6],[-13,19.3],[-9,21.7],[0.5,22.4],[10,20.3],[25,18.9],[39.9,20.3],[46,24],[46.4,30]]],
  ['er',[[-90,-3.5],[-85.3,-3],[-79.9,-5],[-74.5,-10]]],
  ['er',[[-90,-7],[-87.3,-10]]]
];
const contours5 = [
  ['kelvin',[[-56.9,30],[-52.8,27],[-46,25.5],[-39.2,27],[-36.2,30]]],
  ['mjo',[[-9.3,30],[-5.2,27.9],[5.7,26.2],[15.2,25],[22,21.2],[30.2,19.3],[42.4,18.6],[50.6,19.8],[54.7,25],[55.1,30]]],
  ['mjo',[[-35.4,14],[-31,17.4],[-20,21],[-13.8,20.3],[-12.9,17.5],[-15.5,14.5],[-21,13.2],[-28.3,12.7]],true],
  ['mjo',[[-70.5,23.6],[-68.4,24.6],[-67.5,23.6],[-69,22.9]],true],
  ['kelvin',[[22,21.4],[24.8,25],[27.5,25.7],[28.2,24.6],[26.1,22.2],[22.7,21]],true],
  ['kelvin',[[59.2,30],[61.5,28.9],[64.2,30]]],
  ['er',[[-89.8,-3.7],[-86.8,-5.4],[-84.8,-10]]]
];
const contours6 = [
  ['mjo',[[27.5,30],[32.2,29.3],[32.9,25],[37,21.2],[45.2,19.5],[54.7,19.8],[60.1,22.7],[62.6,27.9],[62.9,30]]],
  ['mjo',[[-23.5,16],[-21.5,18.4],[-14.7,18.4],[-14,17],[-18,15],[-22.9,15.2]],true],
  ['kelvin',[[51.3,30],[49.3,22.2],[50.6,19.8],[56,18.9],[68.3,19.8],[79.2,24],[87.3,27],[90,30]]],
  ['kelvin',[[62.9,29.3],[69,29.3],[70,30]]]
];
const contours7 = [
  ['mjo',[[49.9,30],[47.9,25],[52,21.7],[60.1,21],[66.9,24],[70.3,29.3],[70.7,30]]],
  ['kelvin',[[83.3,30],[83,22.7],[86,19.3],[90,17.9]]]
];
const contours8 = [
  ['kelvin',[[-71.8,30],[-73.2,26],[-78.6,22.9],[-90,23.1]]],
  ['kelvin',[[16.6,30],[11.8,25],[11.2,21.2],[16.6,18.9],[26.1,18.9],[34.3,21.2],[39,25],[37.7,28.4],[35,30]]]
];
const panelContours = [contours1, contours2, contours3, contours4, contours5, contours6, contours7, contours8];

const waveColors = {mjo: '#000000', kelvin: '#0000ff', er: '#ff0000', low: '#a040e0'};

// ---- layout and scales ----
const NS = 'http://www.w3.org/2000/svg';
const PX_PER_LON = 3.53;
const PX_PER_LAT = 3.5;
const LEFT_ZERO_X = 419.5;
const COLUMN_STEP = 742.5;
const TOP_Y = 45.8;
const ROW_STEP = 225;
const LON_MIN = -90, LON_MAX = 90, LAT_MIN = -10, LAT_MAX = 30;

function xScale(col) { return lon => LEFT_ZERO_X + col * COLUMN_STEP + lon * PX_PER_LON; }
function yScale(row) { return lat => TOP_Y + row * ROW_STEP + (LAT_MAX - lat) * PX_PER_LAT; }
function levelColor(level) {
  const index = level === 0 ? 5 : (level > 0 ? 6 + (level - 1) / 2 : 4 + (level + 1) / 2);
  return colorbarColors[index];
}
function make(tag, attrs, parent) {
  const el = document.createElementNS(NS, tag);
  for (const k in attrs) el.setAttribute(k, attrs[k]);
  parent.appendChild(el);
  return el;
}
// points on the domain edge are pushed out so the clip gives crisp edges
function pushOut(p) {
  let lon = p[0], lat = p[1];
  if (lon <= LON_MIN) lon -= 3;
  if (lon >= LON_MAX) lon += 3;
  if (lat >= LAT_MAX) lat += 2;
  if (lat <= LAT_MIN) lat -= 2;
  return [lon, lat];
}
function smoothPath(points, closed, sx, sy) {
  const pts = points.map(pushOut).map(p => [sx(p[0]), sy(p[1])]);
  const n = pts.length;
  const at = i => closed ? pts[(i + n) % n] : pts[Math.max(0, Math.min(n - 1, i))];
  let d = 'M' + pts[0][0].toFixed(1) + ' ' + pts[0][1].toFixed(1);
  const segs = closed ? n : n - 1;
  for (let i = 0; i < segs; i++) {
    const p0 = at(i - 1), p1 = at(i), p2 = at(i + 1), p3 = at(i + 2);
    const c1x = p1[0] + (p2[0] - p0[0]) / 6, c1y = p1[1] + (p2[1] - p0[1]) / 6;
    const c2x = p2[0] - (p3[0] - p1[0]) / 6, c2y = p2[1] - (p3[1] - p1[1]) / 6;
    d += 'C' + c1x.toFixed(1) + ' ' + c1y.toFixed(1) + ' ' + c2x.toFixed(1) + ' ' + c2y.toFixed(1) + ' ' + p2[0].toFixed(1) + ' ' + p2[1].toFixed(1);
  }
  return d + (closed ? 'Z' : '');
}
function linePath(points, sx, sy) {
  return points.map((p, i) => (i ? 'L' : 'M') + sx(p[0]).toFixed(1) + ' ' + sy(p[1]).toFixed(1)).join('');
}

// ---- draw panels ----
const root = document.getElementById('panels');
const defs = document.querySelector('defs');
panelTitles.forEach((title, index) => {
  const col = index < 4 ? 0 : 1;
  const row = index % 4;
  const x = xScale(col), y = yScale(row);
  const left = x(LON_MIN), right = x(LON_MAX), top = y(LAT_MAX), bottom = y(LAT_MIN);
  const panel = make('g', {}, root);
  
  

  const clip = make('clipPath', {id: 'clip-' + index}, defs);
  make('rect', {x: left, y: top, width: right - left, height: bottom - top}, clip);

  const field = make('g', {'clip-path': 'url(#clip-' + index + ')'}, panel);
  
  

  const bg = make('rect', {x: left, y: top, width: right - left, height: bottom - top, fill: colorbarColors[5]}, field);
  
  

  panelShading[index].forEach(item => {
    const s = make('path', {d: smoothPath(item[1], true, x, y), fill: levelColor(item[0])}, field);
    
    
  });

  equatorOceanSpans.forEach(span => {
    const g = make('line', {x1: x(span[0]), x2: x(span[1]), y1: y(0), y2: y(0), stroke: '#333', 'stroke-width': 1.4, 'stroke-dasharray': '5 4'}, field);
    
    
  });
  primeMeridianOceanSpans.forEach(span => {
    const g = make('line', {x1: x(0), x2: x(0), y1: y(span[0]), y2: y(span[1]), stroke: '#333', 'stroke-width': 1.4, 'stroke-dasharray': '5 4'}, field);
    
    
  });

  const coast = make('path', {d: coastlines.map(c => linePath(c, x, y)).join(''), fill: 'none', stroke: '#666', 'stroke-width': 1.8, 'stroke-linejoin': 'round'}, field);
  
  

  panelContours[index].forEach(item => {
    const c = make('path', {d: smoothPath(item[1], !!item[2], x, y), fill: 'none', stroke: waveColors[item[0]], 'stroke-width': 2.2}, field);
    
    
  });

  const frame = make('rect', {x: left, y: top, width: right - left, height: bottom - top, fill: 'none', stroke: '#000', 'stroke-width': 3}, panel);
  
  

  const ticks = make('g', {stroke: '#000', fill: 'none'}, panel);
  
  
  lonLabelTicks.forEach(lon => {
    make('line', {x1: x(lon), x2: x(lon), y1: top - 6.5, y2: top, 'stroke-width': 2}, ticks);
    make('line', {x1: x(lon), x2: x(lon), y1: bottom, y2: bottom + 6.5, 'stroke-width': 2}, ticks);
  });
  lonMinorTicks.forEach(lon => {
    make('line', {x1: x(lon), x2: x(lon), y1: top - 4, y2: top, 'stroke-width': 1.4}, ticks);
    make('line', {x1: x(lon), x2: x(lon), y1: bottom, y2: bottom + 4, 'stroke-width': 1.4}, ticks);
  });
  latLabelTicks.forEach(lat => {
    make('line', {x1: left - 4.5, x2: left, y1: y(lat), y2: y(lat), 'stroke-width': 2}, ticks);
    make('line', {x1: right, x2: right + 4.5, y1: y(lat), y2: y(lat), 'stroke-width': 2}, ticks);
  });
  latMinorTicks.forEach(lat => {
    make('line', {x1: left - 3, x2: left, y1: y(lat), y2: y(lat), 'stroke-width': 1.4}, ticks);
    make('line', {x1: right, x2: right + 3, y1: y(lat), y2: y(lat), 'stroke-width': 1.4}, ticks);
  });

  const raised = index < 2 ? 8 : (index === 4 ? 15 : 14.5);
  const t = make('text', {x: col === 0 ? 101 : 843.5, y: top - raised, 'font-size': 34.8, textLength: panelTitleWidths[index], lengthAdjust: 'spacingAndGlyphs'}, panel);
  
  
  t.textContent = title;

  if (col === 0) {
    latLabelTicks.forEach((lat, i) => {
      const l = make('text', {x: 74, y: y(lat) + 12.5, 'font-size': 34.5, 'text-anchor': 'end'}, panel);
      
      
      l.textContent = latLabels[i];
    });
  }
  if (row === 3) {
    lonLabelTicks.forEach((lon, i) => {
      const l = make('text', {x: x(lon) - 0.5, y: 917.5, 'font-size': 34.8, 'text-anchor': 'middle'}, panel);
      
      
      l.textContent = lonLabels[i];
    });
  }
});

const observedTag = make('text', {x: 737.5, y: 38, 'font-size': 34.8, 'text-anchor': 'end'}, root);


observedTag.textContent = 'Observed';
const forecastTag = make('text', {x: 1479, y: 38, 'font-size': 34.8, 'text-anchor': 'end'}, root);


forecastTag.textContent = 'CFS Forecast';

// ---- draw colorbar ----
const cb = document.getElementById('colorbar');
const cbLeft = 229.7, cbRight = 833, cbTop = 978.5, cbBottom = 1001.5;
const cbStep = (cbRight - cbLeft) / colorbarColors.length;
colorbarColors.forEach((color, i) => {
  const box = make('rect', {x: cbLeft + i * cbStep, y: cbTop, width: cbStep, height: cbBottom - cbTop, fill: color, stroke: '#222', 'stroke-width': 1.4}, cb);
  
  
});
colorbarLabels.forEach((label, i) => {
  const l = make('text', {x: cbLeft + (i + 1) * cbStep, y: 1030.5, 'font-size': 28.5, 'text-anchor': 'middle'}, cb);
  
  
  l.textContent = label;
});
</script>
</body>
</html>
